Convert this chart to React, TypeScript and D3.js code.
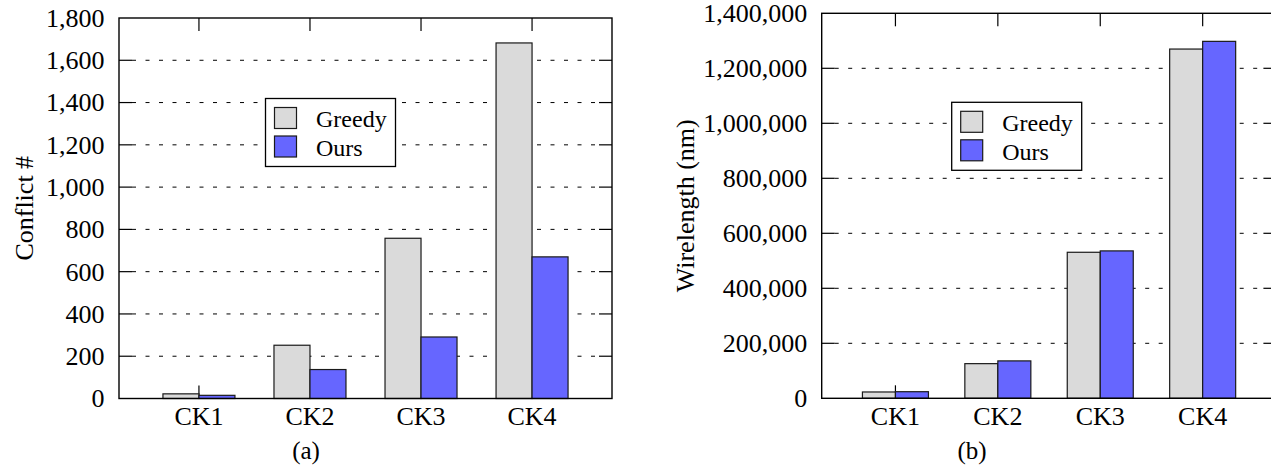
import React from "react";
import * as d3 from "d3";

const categories = ["CK1", "CK2", "CK3", "CK4"];
const seriesNames = ["Greedy", "Ours"];
const seriesColors = ["#dadada", "#6666ff"];

const conflictGreedy = [22, 252, 758, 1682];
const conflictOurs = [15, 137, 291, 670];
const wirelengthGreedy = [23000, 126000, 531000, 1270000];
const wirelengthOurs = [24000, 136000, 536000, 1298000];

const conflictTicks = [0, 200, 400, 600, 800, 1000, 1200, 1400, 1600, 1800];
const wirelengthTicks = [0, 200000, 400000, 600000, 800000, 1000000, 1200000, 1400000];

const FONT = "Times New Roman";
const TICK = 13;

type PanelProps = {
  x0: number;
  x1: number;
  y0: number;
  y1: number;
  barW: number;
  ticks: number[];
  series: number[][];
  yLabel: string;
  yLabelX: number;
  caption: string;
  captionX: number;
  legendX: number;
  legendY: number;
};

function T(props: { x: number; y: number; size: number; anchor?: string; dy?: string; transform?: string; children: React.ReactNode }) {
  return (
    <text
      x={props.x}
      y={props.y}
      dy={props.dy}
      transform={props.transform}
      textAnchor={props.anchor || "start"}
      style={{ fontFamily: FONT, fontSize: props.size + "px" }}
    >
      {props.children}
    </text>
  );
}

function Panel(p: PanelProps) {
  const yMax = p.ticks[p.ticks.length - 1];
  const y = d3.scaleLinear().domain([0, yMax]).range([p.y1, p.y0]);
  const x = d3.scalePoint<string>().domain(categories).range([p.x0, p.x1]).padding(0.72);
  const fmt = d3.format(",");
  const inner = p.ticks.slice(1, -1);
  return (
    <g>
      {inner.map((t) => (
        <line
          key={"g" + t}
          x1={p.x0 + TICK}
          x2={p.x1 - TICK}
          y1={y(t)}
          y2={y(t)}
          stroke="#000"
          strokeWidth={1}
          strokeDasharray="4,9.5"
        />
      ))}
      {inner.map((t) => (
        <g key={"t" + t}>
          <line x1={p.x0} x2={p.x0 + TICK} y1={y(t)} y2={y(t)} stroke="#000" strokeWidth={1.2} />
          <line x1={p.x1 - TICK} x2={p.x1} y1={y(t)} y2={y(t)} stroke="#000" strokeWidth={1.2} />
        </g>
      ))}
      {categories.map((c) => (
        <g key={"x" + c}>
          <line x1={x(c)} x2={x(c)} y1={p.y0} y2={p.y0 + TICK} stroke="#000" strokeWidth={1.2} />
          <line x1={x(c)} x2={x(c)} y1={p.y1} y2={p.y1 - TICK} stroke="#000" strokeWidth={1.2} />
        </g>
      ))}
      {p.series.map((vals, si) =>
        vals.map((v, i) => {
          const cx = x(categories[i]) as number;
          const bx = si === 0 ? cx - p.barW : cx;
          return (
            <rect
              key={"b" + si + "-" + i}
              x={bx}
              y={y(v)}
              width={p.barW}
              height={y(0) - y(v)}
              fill={seriesColors[si]}
              stroke="#1a1a1a"
              strokeWidth={1.2}
            />
          );
        })
      )}
      <rect x={p.x0} y={p.y0} width={p.x1 - p.x0} height={p.y1 - p.y0} fill="none" stroke="#000" strokeWidth={1.4} />
      {p.ticks.map((t) => (
        <T key={"l" + t} x={p.x0 - 14.5} y={y(t)} dy="0.34em" anchor="end" size={26}>
          {fmt(t)}
        </T>
      ))}
      {categories.map((c) => (
        <T key={"c" + c} x={x(c) as number} y={p.y1 + 26.5} anchor="middle" size={26}>
          {c}
        </T>
      ))}
      <T
        x={0}
        y={0}
        transform={`translate(${p.yLabelX},${(p.y0 + p.y1) / 2}) rotate(-90)`}
        anchor="middle"
        size={26}
      >
        {p.yLabel}
      </T>
      <T x={p.captionX} y={459} anchor="middle" size={25}>
        {p.caption}
      </T>
      <g transform={`translate(${p.legendX},${p.legendY})`}>
        <rect x={0} y={0} width={130} height={68} fill="#fff" stroke="#000" strokeWidth={1.3} />
        {seriesNames.map((n, i) => (
          <g key={n}>
            <rect
              x={9}
              y={9 + i * 28.5}
              width={22}
              height={21}
              fill={seriesColors[i]}
              stroke="#1a1a1a"
              strokeWidth={1.2}
            />
            <T x={50.5} y={28.5 + i * 29} size={24}>
              {n}
            </T>
          </g>
        ))}
      </g>
    </g>
  );
}

export default function App() {
  return (
    <svg width={1271} height={471} style={{ position: "absolute", left: 0, top: 0 }}>
      <rect x={0} y={0} width={1271} height={471} fill="#fff" />
      <Panel
        x0={119}
        x1={612}
        y0={18}
        y1={398.5}
        barW={36}
        ticks={conflictTicks}
        series={[conflictGreedy, conflictOurs]}
        yLabel="Conflict #"
        yLabelX={33}
        caption="(a)"
        captionX={306}
        legendX={265.5}
        legendY={98.5}
      />
      <Panel
        x0={821.7}
        x1={1276.4}
        y0={13.3}
        y1={398.3}
        barW={33}
        ticks={wirelengthTicks}
        series={[wirelengthGreedy, wirelengthOurs]}
        yLabel="Wirelength (nm)"
        yLabelX={694}
        caption="(b)"
        captionX={972}
        legendX={951.7}
        legendY={102.3}
      />
    </svg>
  );
}
